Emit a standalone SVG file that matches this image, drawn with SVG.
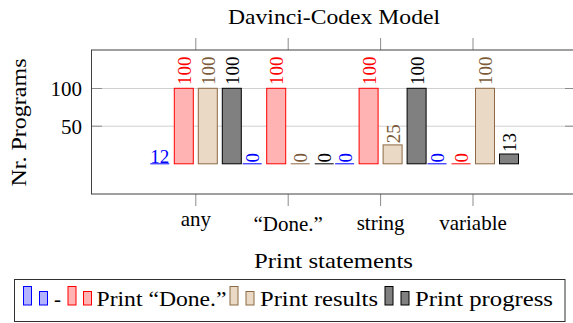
<svg xmlns="http://www.w3.org/2000/svg" width="573" height="323" viewBox="0 0 573 323">
<style>
.t{font-size:21px;fill:#000}
.v{font-size:19px}
.grid{stroke:#d0d0d0;stroke-width:1}
.tick{stroke:#8c8c8c;stroke-width:1}
.frame{fill:none;stroke:#404040;stroke-width:1}
.b{stroke-width:1}
.blue{fill:#b3b3ff;stroke:#0000ff}
.red{fill:#ffb3b3;stroke:#ff0000}
.tan{fill:#ead9c4;stroke:#8c6a45}
.blk{fill:#808080;stroke:#000}
.zb{stroke:#0000ff}.zr{stroke:#ff0000}.zt{stroke:#8c6a45}.zk{stroke:#000}
.lb{fill:#0000ff}.lr{fill:#ff0000}.lt{fill:#7a5a38}.lk{fill:#000}
</style>
<rect width="573" height="323" fill="#fff"/>
<text class="t" font-family="Liberation Serif" x="334" y="24" text-anchor="middle" font-size="22" textLength="212" lengthAdjust="spacingAndGlyphs">Davinci-Codex Model</text>

<g id="axis">
<line class="grid" x1="92" y1="88.5" x2="575" y2="88.5"/>
<line class="grid" x1="92" y1="126.2" x2="575" y2="126.2"/>
<line class="tick" x1="92" y1="88.5" x2="102" y2="88.5"/>
<line class="tick" x1="92" y1="126.2" x2="102" y2="126.2"/>
<line class="tick" x1="565" y1="88.5" x2="575" y2="88.5"/>
<line class="tick" x1="565" y1="126.2" x2="575" y2="126.2"/>
<line class="tick" x1="195.8" y1="38" x2="195.8" y2="50"/>
<line class="tick" x1="288.2" y1="38" x2="288.2" y2="50"/>
<line class="tick" x1="380.6" y1="38" x2="380.6" y2="50"/>
<line class="tick" x1="473" y1="38" x2="473" y2="50"/>
<line class="tick" x1="195.8" y1="194" x2="195.8" y2="206"/>
<line class="tick" x1="288.2" y1="194" x2="288.2" y2="206"/>
<line class="tick" x1="380.6" y1="194" x2="380.6" y2="206"/>
<line class="tick" x1="473" y1="194" x2="473" y2="206"/>
<rect class="frame" x="91.5" y="50" width="490" height="144"/>
<text class="t" font-family="Liberation Serif" x="82" y="95.5" text-anchor="end" font-size="20">100</text>
<text class="t" font-family="Liberation Serif" x="82" y="133.5" text-anchor="end" font-size="20">50</text>
<text class="t" font-family="Liberation Serif" transform="translate(26,122.5) rotate(-90)" text-anchor="middle" textLength="128" lengthAdjust="spacingAndGlyphs">Nr. Programs</text>
<text class="t" font-family="Liberation Serif" x="195.8" y="226" text-anchor="middle">any</text>
<text class="t" font-family="Liberation Serif" x="288.2" y="231" text-anchor="middle">“Done.”</text>
<text class="t" font-family="Liberation Serif" x="380.6" y="229.5" text-anchor="middle">string</text>
<text class="t" font-family="Liberation Serif" x="473" y="229.5" text-anchor="middle">variable</text>
<text class="t" font-family="Liberation Serif" x="333.5" y="268" text-anchor="middle" textLength="159" lengthAdjust="spacingAndGlyphs">Print statements</text>
</g>

<g id="bars">
<rect class="b red" x="174.3" y="88.3" width="19" height="75.5"/>
<rect class="b tan" x="198.3" y="88.3" width="19" height="75.5"/>
<rect class="b blk" x="222.3" y="88.3" width="19" height="75.5"/>
<rect class="b red" x="266.7" y="88.3" width="19" height="75.5"/>
<rect class="b red" x="359.1" y="88.3" width="19" height="75.5"/>
<rect class="b tan" x="383.1" y="144.9" width="19" height="18.9"/>
<rect class="b blk" x="407.1" y="88.3" width="19" height="75.5"/>
<rect class="b tan" x="475.5" y="88.3" width="19" height="75.5"/>
<rect class="b blk" x="499.5" y="154" width="19" height="9.8"/>
<line class="zb" x1="150.3" y1="163.8" x2="169.3" y2="163.8"/>
<line class="zb" x1="242.7" y1="163.8" x2="261.7" y2="163.8"/>
<line class="zt" x1="290.7" y1="163.8" x2="309.7" y2="163.8"/>
<line class="zk" x1="314.7" y1="163.8" x2="333.7" y2="163.8"/>
<line class="zb" x1="335.1" y1="163.8" x2="354.1" y2="163.8"/>
<line class="zb" x1="427.5" y1="163.8" x2="446.5" y2="163.8"/>
<line class="zr" x1="451.5" y1="163.8" x2="470.5" y2="163.8"/>
</g>

<g id="values" font-family="Liberation Serif">
<text class="v lb" font-family="Liberation Serif" x="159.8" y="162.5" text-anchor="middle">12</text>
<text class="v lr" font-family="Liberation Serif" transform="translate(190.8,85) rotate(-90)">100</text>
<text class="v lt" font-family="Liberation Serif" transform="translate(214.8,85) rotate(-90)">100</text>
<text class="v lk" font-family="Liberation Serif" transform="translate(238.8,85) rotate(-90)">100</text>
<text class="v lb" font-family="Liberation Serif" transform="translate(259.2,162.5) rotate(-90)">0</text>
<text class="v lr" font-family="Liberation Serif" transform="translate(283.2,85) rotate(-90)">100</text>
<text class="v lt" font-family="Liberation Serif" transform="translate(307.2,162.5) rotate(-90)">0</text>
<text class="v lk" font-family="Liberation Serif" transform="translate(331.2,162.5) rotate(-90)">0</text>
<text class="v lb" font-family="Liberation Serif" transform="translate(351.6,162.5) rotate(-90)">0</text>
<text class="v lr" font-family="Liberation Serif" transform="translate(375.6,85) rotate(-90)">100</text>
<text class="v lt" font-family="Liberation Serif" transform="translate(399.6,143.3) rotate(-90)">25</text>
<text class="v lk" font-family="Liberation Serif" transform="translate(423.6,85) rotate(-90)">100</text>
<text class="v lb" font-family="Liberation Serif" transform="translate(444,162.5) rotate(-90)">0</text>
<text class="v lr" font-family="Liberation Serif" transform="translate(468,162.5) rotate(-90)">0</text>
<text class="v lt" font-family="Liberation Serif" transform="translate(492,85) rotate(-90)">100</text>
<text class="v lk" font-family="Liberation Serif" transform="translate(516,152) rotate(-90)">13</text>
</g>

<g id="legend">
<rect x="14.5" y="279.5" width="550.5" height="42" fill="#fff" stroke="#303030" stroke-width="1"/>
<rect class="b blue" x="23.5" y="286.5" width="8" height="18.5"/>
<rect class="b blue" x="39.5" y="291.5" width="8" height="13.5"/>
<text class="t" font-family="Liberation Serif" x="54" y="305.5">-</text>
<rect class="b red" x="68" y="286.5" width="8" height="18.5"/>
<rect class="b red" x="83.5" y="291.5" width="8" height="13.5"/>
<text class="t" font-family="Liberation Serif" x="96.5" y="305.5" textLength="130" lengthAdjust="spacingAndGlyphs">Print “Done.”</text>
<rect class="b tan" x="230" y="286.5" width="8" height="18.5"/>
<rect class="b tan" x="246" y="291.5" width="8" height="13.5"/>
<text class="t" font-family="Liberation Serif" x="260" y="305.5" textLength="118" lengthAdjust="spacingAndGlyphs">Print results</text>
<rect class="b blk" x="385" y="286.5" width="8" height="18.5"/>
<rect class="b blk" x="401" y="291.5" width="8" height="13.5"/>
<text class="t" font-family="Liberation Serif" x="415" y="305.5" textLength="138" lengthAdjust="spacingAndGlyphs">Print progress</text>
</g>
</svg>
